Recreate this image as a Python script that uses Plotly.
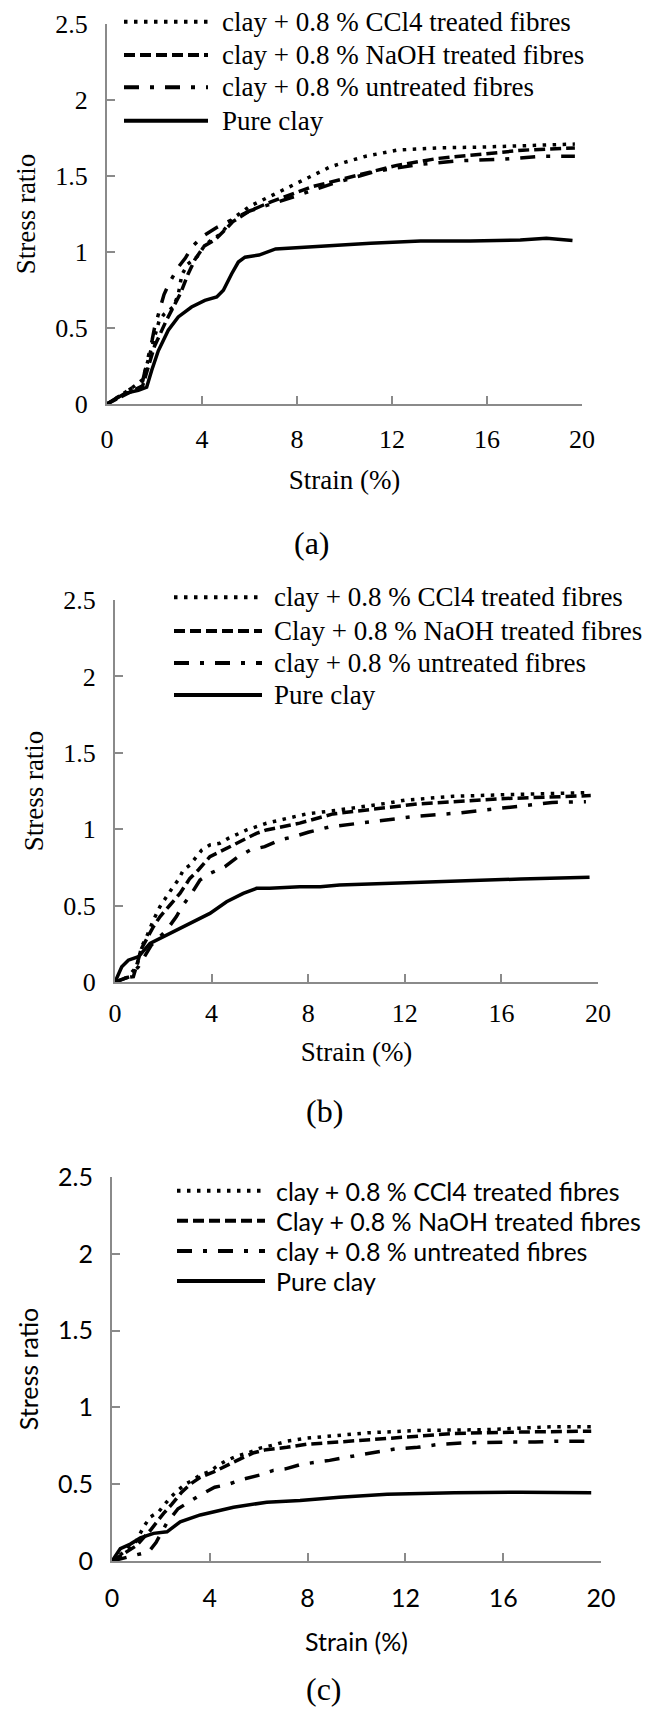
import plotly.graph_objects as go

W, H = 651, 1711

# ---------------- data ----------------
names_a = ["clay + 0.8 % CCl4 treated fibres", "clay + 0.8 % NaOH treated fibres",
           "clay + 0.8 % untreated fibres", "Pure clay"]
names_bc = ["clay + 0.8 % CCl4 treated fibres", "Clay + 0.8 % NaOH treated fibres",
            "clay + 0.8 % untreated fibres", "Pure clay"]

# panel (a)
a_ccl4_x = [0, 0.5, 1.0, 1.5, 1.75, 2.0, 2.2, 2.4, 2.8, 3.0, 3.15, 3.4, 3.8, 4.1, 4.4, 4.8, 5.3, 6.0, 6.9, 8.1, 9.4, 10.0, 10.9, 12.2, 13.9, 15.7, 17.5, 19.7]
a_ccl4_y = [0, 0.05, 0.1, 0.16, 0.3, 0.45, 0.55, 0.59, 0.64, 0.72, 0.85, 0.92, 0.97, 1.04, 1.08, 1.12, 1.22, 1.3, 1.37, 1.46, 1.56, 1.59, 1.63, 1.67, 1.685, 1.69, 1.70, 1.71]
a_naoh_x = [0, 0.5, 1.0, 1.5, 2.0, 2.5, 2.9, 3.1, 3.4, 3.7, 4.1, 4.55, 5.0, 5.3, 6.0, 6.9, 8.65, 10.4, 12.2, 13.9, 15.7, 17.5, 19.7]
a_naoh_y = [0, 0.04, 0.08, 0.12, 0.38, 0.55, 0.67, 0.73, 0.85, 0.95, 1.04, 1.08, 1.15, 1.2, 1.27, 1.33, 1.43, 1.5, 1.57, 1.615, 1.645, 1.67, 1.685]
a_untr_x = [0, 0.5, 1.0, 1.5, 1.9, 2.0, 2.4, 2.6, 3.0, 3.3, 3.56, 4.0, 4.6, 6.0, 7.8, 9.5, 11.3, 13.1, 14.8, 16.6, 18.4, 19.7]
a_untr_y = [0, 0.05, 0.1, 0.15, 0.42, 0.5, 0.72, 0.79, 0.9, 0.96, 1.03, 1.1, 1.16, 1.27, 1.36, 1.45, 1.53, 1.575, 1.6, 1.61, 1.63, 1.63]
a_pure_x = [0, 0.76, 1.32, 1.67, 1.88, 2.16, 2.58, 3.0, 3.56, 4.12, 4.62, 4.9, 5.25, 5.53, 5.81, 6.4, 7.1, 8.1, 9.0, 11.1, 13.2, 15.3, 17.4, 18.5, 19.6]
a_pure_y = [0, 0.07, 0.09, 0.11, 0.22, 0.35, 0.485, 0.573, 0.638, 0.682, 0.704, 0.748, 0.857, 0.934, 0.966, 0.98, 1.02, 1.03, 1.035, 1.057, 1.072, 1.072, 1.079, 1.09, 1.075]

# panel (b)
b_ccl4_x = [0, 0.5, 0.9, 1.1, 1.31, 1.59, 1.86, 2.21, 2.41, 2.62, 2.83, 3.1, 3.31, 3.59, 3.93, 4.34, 4.69, 5.1, 5.45, 5.86, 6.27, 7.1, 7.93, 9.0, 10.0, 11.24, 12.0, 14.0, 16.0, 18.0, 19.7]
b_ccl4_y = [0, 0.03, 0.1, 0.23, 0.297, 0.405, 0.493, 0.58, 0.624, 0.668, 0.733, 0.765, 0.81, 0.863, 0.897, 0.908, 0.94, 0.973, 0.995, 1.017, 1.039, 1.07, 1.1, 1.12, 1.14, 1.169, 1.19, 1.215, 1.225, 1.235, 1.24]
b_naoh_x = [0, 0.5, 0.76, 1.1, 1.59, 1.86, 2.28, 2.69, 3.1, 3.45, 3.93, 4.34, 4.76, 5.31, 5.86, 6.27, 7.65, 9.03, 11.0, 12.5, 14.0, 16.0, 18.0, 19.7]
b_naoh_y = [0, 0.03, 0.035, 0.22, 0.362, 0.427, 0.504, 0.58, 0.678, 0.733, 0.82, 0.853, 0.886, 0.93, 0.973, 0.995, 1.04, 1.1, 1.14, 1.165, 1.18, 1.2, 1.21, 1.22]
b_untr_x = [0, 0.62, 0.97, 1.5, 2.14, 2.55, 2.76, 3.17, 3.52, 3.93, 4.55, 5.1, 5.6, 6.2, 6.83, 7.38, 8.0, 8.9, 10.7, 12.5, 14.3, 16.2, 18.1, 19.5]
b_untr_y = [0, 0.035, 0.1, 0.24, 0.34, 0.43, 0.49, 0.58, 0.667, 0.71, 0.755, 0.82, 0.864, 0.886, 0.93, 0.95, 0.98, 1.016, 1.05, 1.085, 1.107, 1.14, 1.175, 1.18]
b_pure_x = [0, 0.28, 0.55, 0.97, 1.45, 2.14, 2.97, 3.93, 4.62, 5.31, 5.86, 6.41, 7.65, 8.5, 9.3, 11.2, 14.0, 16.8, 19.65]
b_pure_y = [0, 0.1, 0.143, 0.166, 0.253, 0.307, 0.373, 0.449, 0.525, 0.58, 0.613, 0.613, 0.624, 0.624, 0.635, 0.646, 0.661, 0.674, 0.685]

# panel (c)
c_ccl4_x = [0, 0.5, 1.0, 1.29, 1.57, 1.91, 2.11, 2.38, 2.66, 3.0, 3.34, 3.61, 4.02, 4.29, 4.63, 5.1, 5.5, 6.06, 6.6, 7.15, 7.97, 8.9, 10.5, 12.6, 15.3, 18.0, 19.6]
c_ccl4_y = [0, 0.06, 0.13, 0.222, 0.287, 0.32, 0.36, 0.412, 0.456, 0.5, 0.53, 0.56, 0.585, 0.617, 0.65, 0.683, 0.7, 0.735, 0.755, 0.78, 0.8, 0.815, 0.835, 0.85, 0.855, 0.874, 0.874]
c_naoh_x = [0, 0.5, 1.0, 1.57, 2.11, 2.45, 2.86, 3.2, 3.61, 4.16, 4.7, 5.25, 5.8, 6.3, 7.15, 7.97, 9.3, 11.25, 13.97, 16.7, 19.6]
c_naoh_y = [0, 0.05, 0.1, 0.2, 0.31, 0.37, 0.45, 0.5, 0.545, 0.58, 0.625, 0.665, 0.705, 0.725, 0.74, 0.76, 0.775, 0.797, 0.83, 0.84, 0.845]
c_untr_x = [0, 0.5, 1.0, 1.5, 1.8, 2.25, 2.7, 3.1, 3.61, 4.2, 4.77, 5.3, 6.06, 6.6, 7.1, 7.76, 8.25, 8.9, 9.75, 10.8, 11.6, 12.5, 13.4, 14.5, 15.5, 16.4, 17.3, 18.2, 19.4]
c_untr_y = [0, 0.02, 0.04, 0.06, 0.12, 0.25, 0.34, 0.38, 0.43, 0.48, 0.5, 0.53, 0.56, 0.59, 0.6, 0.63, 0.64, 0.655, 0.68, 0.71, 0.73, 0.74, 0.76, 0.77, 0.775, 0.775, 0.775, 0.78, 0.78]
c_pure_x = [0, 0.34, 0.75, 1.16, 1.7, 2.25, 2.79, 3.61, 4.97, 6.33, 7.69, 8.5, 9.3, 11.25, 14.0, 16.7, 19.6]
c_pure_y = [0, 0.08, 0.11, 0.15, 0.18, 0.19, 0.255, 0.3, 0.35, 0.383, 0.394, 0.405, 0.415, 0.435, 0.445, 0.448, 0.445]

x_ticks = [0, 4, 8, 12, 16, 20]
y_ticks = [0, 0.5, 1, 1.5, 2, 2.5]
panel_labels = ["(a)", "(b)", "(c)"]

# ---------------- styling ----------------
SERIF = "Liberation Serif"
SANS = "Lato"
DASHES = ["3.5px,6.5px", "11px,5px", "15px,11px,4px,11px", "solid"]
LW = 3.5
AXC = "#8a8a8a"


def fx(p):
    return p / W


def fy(p):
    return 1 - p / H


panels = [
    dict(box=(107, 582, 24, 404), font=SERIF, names=names_a, fs=26, tfs=27, lfs=27,
         data=[(a_ccl4_x, a_ccl4_y), (a_naoh_x, a_naoh_y), (a_untr_x, a_untr_y), (a_pure_x, a_pure_y)],
         leg_line=(124, 208), leg_text=221, rows=[21.7, 55, 87.3, 120.7],
         labpos=(312, 543), tls=11, ts=17),
    dict(box=(115, 598, 600, 982), font=SERIF, names=names_bc, fs=26, tfs=27, lfs=27,
         data=[(b_ccl4_x, b_ccl4_y), (b_naoh_x, b_naoh_y), (b_untr_x, b_untr_y), (b_pure_x, b_pure_y)],
         leg_line=(174, 262), leg_text=273, rows=[597.3, 631, 663, 695],
         labpos=(324, 1111), tls=7, ts=15),
    dict(box=(112, 601, 1177, 1561), font=SANS, names=names_bc, fs=25, tfs=25, lfs=25,
         data=[(c_ccl4_x, c_ccl4_y), (c_naoh_x, c_naoh_y), (c_untr_x, c_untr_y), (c_pure_x, c_pure_y)],
         leg_line=(177, 265), leg_text=275, rows=[1190.7, 1220.7, 1251, 1281],
         labpos=(324, 1689), tls=14, ts=22),
]

fig = go.Figure()
layout = dict(width=W, height=H, margin=dict(l=0, r=0, t=0, b=0),
              font=dict(family=SERIF, color="black"),
              paper_bgcolor="white", plot_bgcolor="white", showlegend=False,
              annotations=[], shapes=[])

for i, p in enumerate(panels):
    n = "" if i == 0 else str(i + 1)
    for k, (xs, ys) in enumerate(p["data"]):
        fig.add_trace(go.Scatter(
            x=xs, y=ys, mode="lines", name=p["names"][k],
            line=dict(color="black", width=LW, dash=DASHES[k]),
            xaxis="x" + n, yaxis="y" + n,
        ))
    l, r, t, b = p["box"]
    tickfont = dict(family=p["font"], size=p["fs"], color="black")
    titlefont = dict(family=p["font"], size=p["tfs"], color="black")
    common = dict(showline=True, linecolor=AXC, linewidth=2, ticks="inside", ticklen=8,
                  tickwidth=2, tickcolor=AXC, showgrid=False, zeroline=False,
                  tickfont=tickfont, automargin=False)
    layout["xaxis" + n] = dict(
        domain=[fx(l), fx(r)], range=[0, 20], tickvals=x_ticks, anchor="y" + n,
        ticklabelstandoff=p["tls"],
        title=dict(text="Strain (%)", font=titlefont, standoff=p["ts"]), **common)
    layout["yaxis" + n] = dict(
        domain=[fy(b), fy(t)], range=[0, 2.5], tickvals=y_ticks, anchor="x" + n,
        ticklabelstandoff=12,
        title=dict(text="Stress ratio", font=titlefont, standoff=12), **common)

    # legend block (line samples + labels)
    x0, x1 = p["leg_line"]
    for k, name in enumerate(p["names"]):
        yr = fy(p["rows"][k])
        layout["shapes"].append(dict(
            type="line", xref="paper", yref="paper", x0=fx(x0), x1=fx(x1), y0=yr, y1=yr,
            line=dict(color="black", width=4, dash=DASHES[k])))
        layout["annotations"].append(dict(
            text=name, x=fx(p["leg_text"]), y=yr, xref="paper", yref="paper",
            xanchor="left", yanchor="middle", showarrow=False, borderpad=0,
            font=dict(family=p["font"], size=p["lfs"], color="black")))

    layout["annotations"].append(dict(
        text=panel_labels[i], x=fx(p["labpos"][0]), y=fy(p["labpos"][1]),
        xref="paper", yref="paper", xanchor="center", yanchor="middle",
        showarrow=False, font=dict(family=SERIF, size=32, color="black")))

fig.update_layout(**layout)
fig.write_html("out.html")
